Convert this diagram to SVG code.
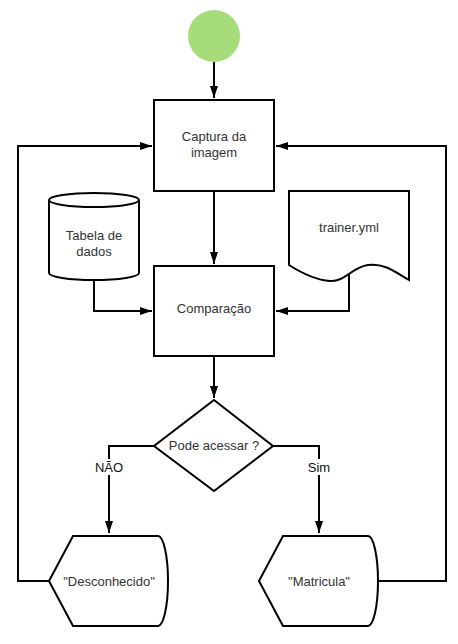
<svg xmlns="http://www.w3.org/2000/svg" width="458" height="644" viewBox="0 0 458 644">
<defs>
<marker id="ah" viewBox="0 0 12 8" refX="12" refY="4" markerWidth="12" markerHeight="8" markerUnits="userSpaceOnUse" orient="auto">
<path d="M0,0 L12,4 L0,8 Z" fill="#000"/>
</marker>
<style>
.n{fill:#fff;stroke:#000;stroke-width:2}
.t{font-family:"Liberation Sans",Arial,sans-serif;font-size:13px;fill:#333;text-anchor:middle}
.l{font-family:"Liberation Sans",Arial,sans-serif;font-size:13px;fill:#111;text-anchor:middle}
.c{fill:none;stroke:#000;stroke-width:2;marker-end:url(#ah)}
.p{fill:none;stroke:#000;stroke-width:2}
</style>
</defs>
<rect width="458" height="644" fill="#fff"/>
<g id="connectors">
<path class="c" d="M214,62 V98"/>
<path class="c" d="M214,191 V264"/>
<path class="c" d="M214,356 V398"/>
<path class="c" d="M94,280 V311 H152"/>
<path class="c" d="M349,273 V311 H276"/>
<path class="c" d="M154,446 H109 V533"/>
<path class="c" d="M273,446 H319 V533"/>
<path class="c" d="M49,581 H18 V146 H152"/>
<path class="c" d="M379,581 H446 V146 H276"/>
<rect x="92" y="459" width="33" height="16" fill="#fff"/>
<text class="l" x="109" y="472">NÃO</text>
<rect x="305" y="459" width="28" height="16" fill="#fff"/>
<text class="l" x="319" y="472">Sim</text>
</g>
<g id="start">
<circle cx="214" cy="36" r="26" fill="#a6dc7a"/>
</g>
<g id="captura">
<rect class="n" x="154" y="100" width="120" height="91"/>
<text class="t" x="214" y="141">Captura da</text>
<text class="t" x="214" y="157">imagem</text>
</g>
<g id="tabela">
<path class="n" d="M49,200 A45,7 0 0 1 139,200 V273 A45,7 0 0 1 49,273 Z"/>
<path class="p" d="M49,200 A45,7 0 0 0 139,200"/>
<text class="t" x="94" y="240">Tabela de</text>
<text class="t" x="94" y="256">dados</text>
</g>
<g id="trainer">
<path class="n" d="M289,191 H409 V280 C395,272 385,263 368,265 C352,267 345,282 330,281 C315,280 300,272 289,265 Z"/>
<text class="t" x="349" y="232">trainer.yml</text>
</g>
<g id="comparacao">
<rect class="n" x="154" y="266" width="120" height="90"/>
<text class="t" x="214" y="313">Comparação</text>
</g>
<g id="decisao">
<path class="n" d="M214,400 L273,446 L214,491 L154,446 Z"/>
<text class="t" x="214" y="450">Pode acessar ?</text>
</g>
<g id="desconhecido">
<path class="n" d="M73,536 H158 A10,45 0 0 1 158,626 H73 L49,581 Z"/>
<text class="t" x="109" y="586">"Desconhecido"</text>
</g>
<g id="matricula">
<path class="n" d="M283,536 H368 A10,45 0 0 1 368,626 H283 L259,581 Z"/>
<text class="t" x="319" y="586">"Matricula"</text>
</g>
</svg>
